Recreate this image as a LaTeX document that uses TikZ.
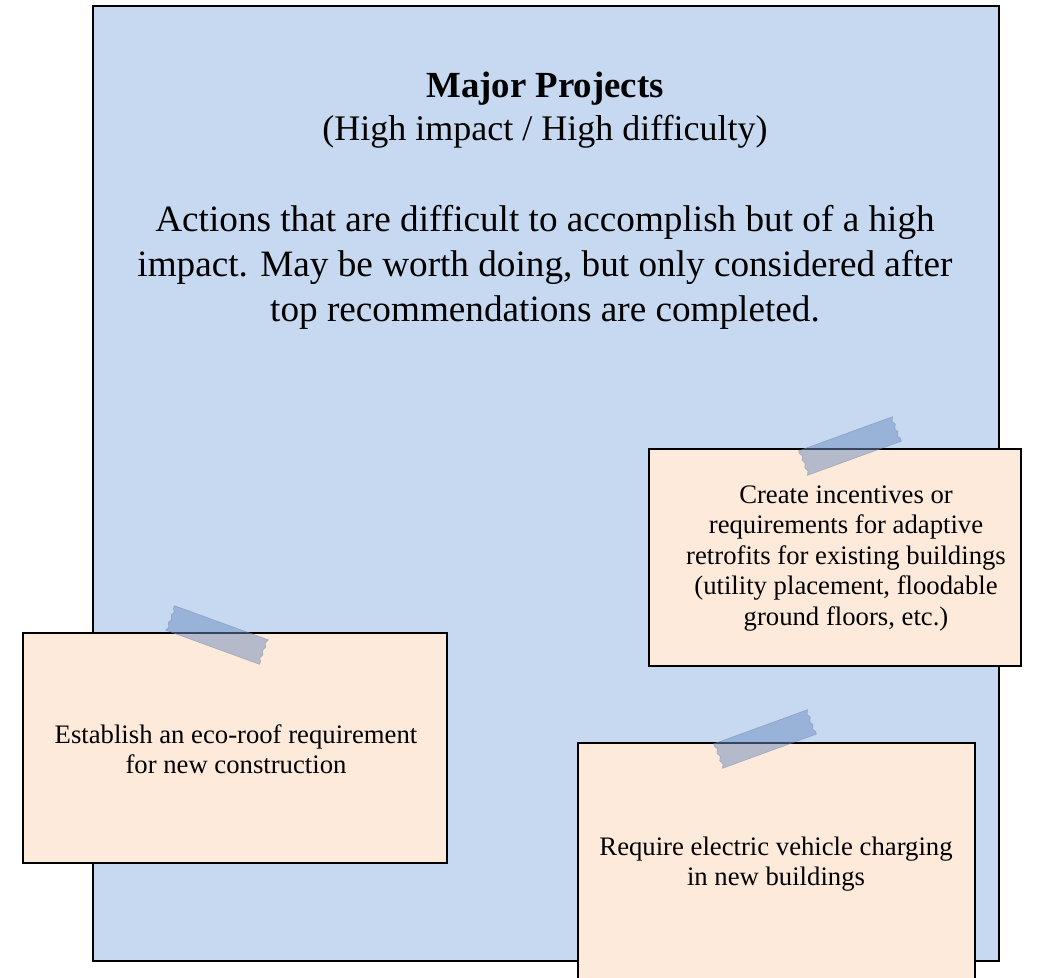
\documentclass[tikz,border=0pt]{standalone}
\usepackage{fontspec}
\setmainfont{Liberation Serif}
\usetikzlibrary{shadows}
\definecolor{bluebg}{RGB}{198,217,241}
\definecolor{peach}{RGB}{253,234,218}
\definecolor{tapec}{RGB}{110,140,190}
\tikzset{
  x=1pt,y=1pt,
  board/.style={draw=black, line width=2pt, fill=bluebg, drop shadow={shadow xshift=1pt,shadow yshift=-1pt,opacity=0.35}},
  note/.style={draw=black, line width=1.6pt, fill=peach, anchor=north west, inner sep=0pt, drop shadow={shadow xshift=1pt,shadow yshift=-1pt,opacity=0.35}},
  notetext/.style={align=center, inner sep=0pt, font=\fontsize{26.7}{30.5}\selectfont},
  tapestyle/.style={fill=tapec, fill opacity=0.5, draw=tapec!80!gray, draw opacity=0.5, line width=0.6pt},
}
\newcommand{\tapepiece}[3]{%
  \begin{scope}[shift={(#1,#2)}, rotate=#3]
    \path[tapestyle] (-50,13) -- (50,13) -- (48,9) -- (50,5) -- (48,1) -- (50,-3) -- (48,-7) -- (50,-10) -- (50,-13)
      -- (-50,-13) -- (-48,-9) -- (-50,-5) -- (-48,-1) -- (-50,3) -- (-48,7) -- (-50,10) -- cycle;
  \end{scope}}
\begin{document}
\begin{tikzpicture}
\useasboundingbox (0,0) rectangle (1048,977);
\clip (0,0) rectangle (1048,977);
% board
\node[board, minimum width=906, minimum height=955, inner sep=0pt, anchor=north west] (boardbox) at (92,972) {};
\node[anchor=base, inner sep=0pt, font=\fontsize{36.8}{40}\selectfont\bfseries] (title) at (545,879) {Major Projects};
\node[anchor=base, inner sep=0pt, font=\fontsize{36}{40}\selectfont] (subtitle) at (545,836) {(High impact / High difficulty)};
\node[align=center, inner sep=0pt, font=\fontsize{37.2}{45}\selectfont] (desc) at (545,710) {Actions that are difficult to accomplish but of a high\\impact. May be worth doing, but only considered after\\top recommendations are completed.};
% notes
\node[note, minimum width=372, minimum height=217] (noteA) at (648,529) {};
\node[notetext] (textA) at (846,418.5) {Create incentives or\\requirements for adaptive\\retrofits for existing buildings\\(utility placement, floodable\\ground floors, etc.)};
\node[note, minimum width=424, minimum height=230] (noteB) at (22,345) {};
\node[notetext] (textB) at (236,228) {Establish an eco-roof requirement\\for new construction};
\node[note, minimum width=397, minimum height=250] (noteC) at (577,235) {};
\node[notetext] (textC) at (776,113) {Require electric vehicle charging\\in new buildings};
% tapes
\tapepiece{217}{342}{-20}
\tapepiece{850}{531}{20}
\tapepiece{765}{238}{20}
\end{tikzpicture}
\end{document}
